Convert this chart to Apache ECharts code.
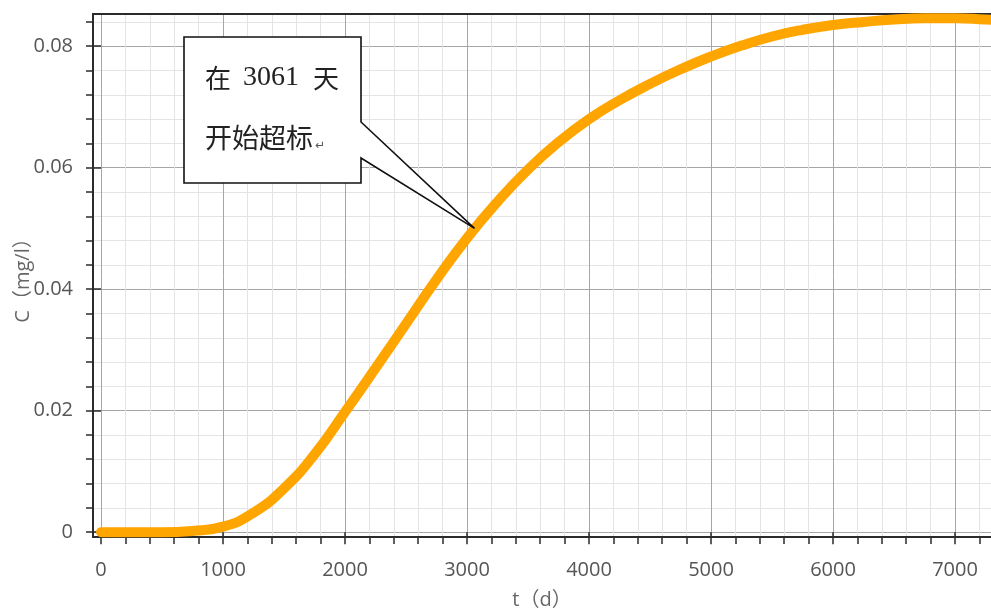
<!DOCTYPE html>
<html>
<head>
<meta charset="utf-8">
<script src="https://cdn.jsdelivr.net/npm/echarts@6/dist/echarts.min.js"></script>
<style>
  html, body { margin: 0; padding: 0; background: #fff; }
  #chart { width: 991px; height: 610px; }
</style>
</head>
<body>
<div id="chart"></div>
<script>
// Concentration breakthrough curve: time (days) vs concentration (mg/l)
const tDays = [0, 250, 500, 750, 1000, 1250, 1500, 1750, 2000, 2250, 2500, 2750, 3000, 3250, 3500, 3750,
               4000, 4250, 4500, 4750, 5000, 5250, 5500, 5750, 6000, 6250, 6500, 6750, 7000, 7250, 7500];
const conc  = [0, 0, 0, 0.0002, 0.0009, 0.0032, 0.0072, 0.0128, 0.0198, 0.0270, 0.0343, 0.0416, 0.0484, 0.0544, 0.0597, 0.0642,
               0.0680, 0.0711, 0.0738, 0.0762, 0.0783, 0.0801, 0.0816, 0.0827, 0.0835, 0.0840, 0.0844, 0.0846, 0.0846, 0.0844, 0.0842];

// Exceedance point called out in the annotation
const exceedDay = 3061;
const limitConc = 0.05;

// Tick positions
const xMajor = [0, 1000, 2000, 3000, 4000, 5000, 6000, 7000];
const xMinor = [];
for (let v = 0; v <= 7200; v += 200) xMinor.push(v);
const yMajor = [0, 0.02, 0.04, 0.06, 0.08];
const yMinor = [];
for (let i = 0; i <= 21; i++) yMinor.push(+(i * 0.004).toFixed(3));

const X_MIN = -66, X_MAX = 7295;
const Y_MIN = -0.0008, Y_MAX = 0.0853;

const labelFont = { color: '#555', fontSize: 20, fontFamily: '"Open Sans", "Noto Sans", sans-serif' };
const nameFont = { color: '#666', fontSize: 20, fontFamily: '"Open Sans", "Noto Sans CJK SC", sans-serif' };
const axisDark = '#2b2b2b';
const plain = v => String(+v.toFixed(4));

const chart = echarts.init(document.getElementById('chart'), null, { renderer: 'canvas' });

chart.setOption({
  animation: false,
  backgroundColor: '#fff',
  grid: { left: 93, right: 0, top: 14, bottom: 73, containLabel: false, outerBoundsMode: 'none' },
  xAxis: [
    { // main axis: line, minor ticks, minor grid, labels, name
      type: 'value', position: 'bottom', min: X_MIN, max: X_MAX,
      name: 't（d）', nameLocation: 'middle', nameGap: 53, nameMoveOverlap: false,
      nameTextStyle: nameFont,
      axisLine: { show: true, onZero: false, lineStyle: { color: axisDark, width: 2 } },
      axisTick: { show: true, customValues: xMinor, length: 7, lineStyle: { color: axisDark, width: 1.5 } },
      axisLabel: Object.assign({ customValues: xMajor, margin: 23, formatter: plain }, labelFont),
      splitLine: { show: true, lineStyle: { color: '#e4e4e4', width: 1 } }
    },
    { // major ticks and major grid
      type: 'value', position: 'bottom', min: X_MIN, max: X_MAX,
      axisLine: { show: false },
      axisTick: { show: true, customValues: xMajor, length: 12, lineStyle: { color: axisDark, width: 1.5 } },
      axisLabel: { show: false },
      splitLine: { show: true, lineStyle: { color: '#a6a6a6', width: 1 } }
    },
    { // top frame line
      type: 'value', position: 'top', min: X_MIN, max: X_MAX,
      axisLine: { show: true, onZero: false, lineStyle: { color: axisDark, width: 2 } },
      axisTick: { show: false }, axisLabel: { show: false }, splitLine: { show: false }
    }
  ],
  yAxis: [
    {
      type: 'value', position: 'left', min: Y_MIN, max: Y_MAX,
      name: 'C（mg/l）', nameLocation: 'middle', nameGap: 60, nameRotate: 90, nameMoveOverlap: false,
      nameTextStyle: nameFont,
      axisLine: { show: true, onZero: false, lineStyle: { color: axisDark, width: 2 } },
      axisTick: { show: true, customValues: yMinor, length: 7, lineStyle: { color: axisDark, width: 1.5 } },
      axisLabel: Object.assign({ customValues: yMajor, margin: 20, formatter: plain }, labelFont),
      splitLine: { show: true, lineStyle: { color: '#e4e4e4', width: 1 } }
    },
    {
      type: 'value', position: 'left', min: Y_MIN, max: Y_MAX,
      axisLine: { show: false },
      axisTick: { show: true, customValues: yMajor, length: 11, lineStyle: { color: axisDark, width: 1.5 } },
      axisLabel: { show: false },
      splitLine: { show: true, lineStyle: { color: '#a6a6a6', width: 1 } }
    }
  ],
  series: [{
    type: 'line',
    xAxisIndex: 0, yAxisIndex: 0,
    data: tDays.map((t, i) => [t, conc[i]]),
    smooth: 0.5,
    symbol: 'none',
    clip: true,
    lineStyle: { color: '#FFA500', width: 10, cap: 'round', join: 'round' },
    z: 5
  }]
});

// Callout box pointing at the exceedance point
const tip = chart.convertToPixel({ seriesIndex: 0 }, [exceedDay, limitConc]);
const box = { l: 184, t: 37, r: 361, b: 183, p1: 122, p2: 158 };
const cjk = '"Noto Sans CJK SC", sans-serif';
const serifDigits = '"Liberation Serif", serif';

chart.setOption({
  graphic: [
    {
      type: 'polygon', z: 100,
      shape: { points: [
        [box.l, box.t], [box.r, box.t], [box.r, box.p1], tip,
        [box.r, box.p2], [box.r, box.b], [box.l, box.b]
      ] },
      style: { fill: '#fff', stroke: '#111', lineWidth: 1.6 }
    },
    {
      type: 'text', z: 101, x: 205, y: 78,
      style: {
        text: '{c|在}{n|' + exceedDay + '}{c|天}',
        verticalAlign: 'middle',
        rich: {
          c: { fontSize: 26, fontFamily: cjk, fill: '#222', verticalAlign: 'middle' },
          n: { fontSize: 28, fontFamily: serifDigits, fill: '#222', verticalAlign: 'middle', padding: [0, 14, 0, 12] }
        }
      }
    },
    {
      type: 'text', z: 101, x: 205, y: 138,
      style: {
        text: '{a|开始超标}{b|↵}',
        verticalAlign: 'middle',
        rich: {
          a: { fontSize: 27, fontFamily: cjk, fill: '#222', verticalAlign: 'middle' },
          b: { fontSize: 12, fontFamily: '"DejaVu Sans", sans-serif', fill: '#555', verticalAlign: 'bottom', padding: [10, 0, 0, 2] }
        }
      }
    }
  ]
});
</script>
</body>
</html>
